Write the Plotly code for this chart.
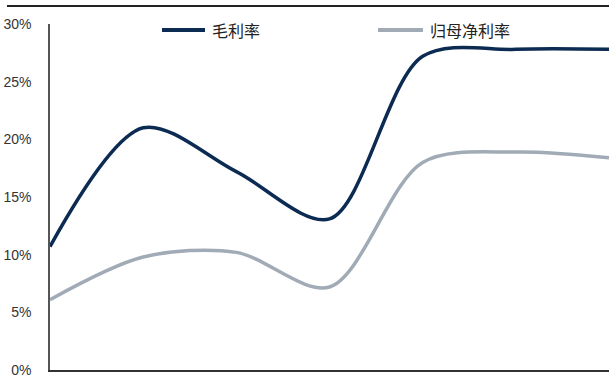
import plotly.graph_objects as go

# Period index along the horizontal axis
periods = [0, 1, 2, 3, 4, 5, 6]

# Margins in percent
gross_margin = [10.7, 21.0, 17.2, 13.1, 27.2, 27.8, 27.8]
net_margin = [6.1, 9.8, 10.2, 7.2, 18.0, 18.9, 18.4]

series_names = ["毛利率", "归母净利率"]
series_colors = ["#0c2b52", "#a1abb6"]

y_ticks = [0, 5, 10, 15, 20, 25, 30]
y_tick_text = [f"{v}%" for v in y_ticks]

fig = go.Figure()
for name, color, values in zip(series_names, series_colors, [gross_margin, net_margin]):
    fig.add_trace(go.Scatter(
        x=periods, y=values, name=name, mode="lines", showlegend=False,
        line=dict(color=color, width=3.5, shape="spline", smoothing=0.9),
    ))

# Legend row drawn across the top of the plot area
legend_key_x = [(0.2004, 0.2773), (0.5868, 0.6673)]
legend_y = 0.983
shapes = [dict(
    type="line", xref="paper", yref="paper",
    x0=-0.077, x1=1.0, y0=1.052, y1=1.052,
    line=dict(color="#222222", width=2),
)]
annotations = []
for (x0, x1), name, color in zip(legend_key_x, series_names, series_colors):
    shapes.append(dict(
        type="line", xref="paper", yref="paper",
        x0=x0, x1=x1, y0=legend_y, y1=legend_y,
        line=dict(color=color, width=4),
    ))
    annotations.append(dict(
        text=name, xref="paper", yref="paper", x=x1 + 0.009, y=legend_y,
        xanchor="left", yanchor="middle", showarrow=False,
        font=dict(family="Noto Sans CJK SC", size=16, color="#222222"),
    ))

fig.update_layout(
    width=609, height=385,
    margin=dict(l=50, r=0, t=24, b=15),
    paper_bgcolor="white", plot_bgcolor="white",
    xaxis=dict(
        range=[0, 6], showgrid=False, zeroline=False, showticklabels=False,
        showline=True, linecolor="#333333", linewidth=2, ticks="",
    ),
    yaxis=dict(
        range=[0, 30], tickvals=y_ticks, ticktext=y_tick_text,
        showgrid=False, zeroline=False,
        showline=True, linecolor="#555555", linewidth=1.5,
        ticks="", ticklabelstandoff=14,
        tickfont=dict(family="Liberation Sans", size=14, color="#333333"),
    ),
    shapes=shapes,
    annotations=annotations,
)

fig.write_html("out.html")
